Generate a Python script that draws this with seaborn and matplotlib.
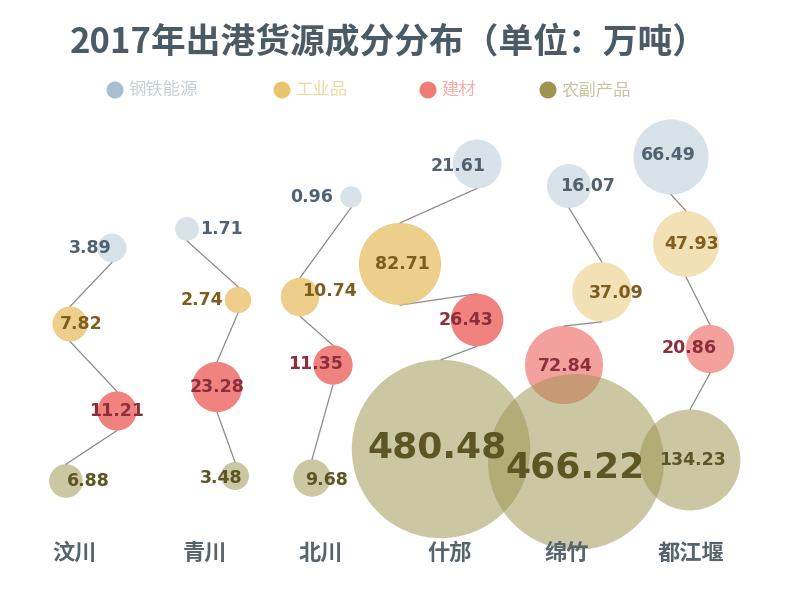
import numpy as np
import pandas as pd
import matplotlib
matplotlib.use('Agg')
import matplotlib.pyplot as plt
import seaborn as sns

# Data (万吨)
regions = ['汶川', '青川', '北川', '什邡', '绵竹', '都江堰']
categories = ['钢铁能源', '工业品', '建材', '农副产品']
steel = [3.89, 1.71, 0.96, 21.61, 16.07, 66.49]
industry = [7.82, 2.74, 10.74, 82.71, 37.09, 47.93]
building = [11.21, 23.28, 11.35, 26.43, 72.84, 20.86]
farm = [6.88, 3.48, 9.68, 480.48, 466.22, 134.23]

# Layout of the hand placed infographic (pixel units)
region_x = [75, 205, 321, 450, 567, 691]
bubble_dx = {
    '钢铁能源': [37, -18, 30, 27, 2, -20],
    '工业品': [-5, 33, -21, -50, 35, -5],
    '建材': [42, 12, 12, 27, -3, 19],
    '农副产品': [-9, 30, -9, -9, 9, -1],
}
bubble_y = {
    '钢铁能源': [248, 229, 197, 164, 186, 157],
    '工业品': [324, 300, 297, 264, 292, 244],
    '建材': [411, 387, 365, 320, 365, 349],
    '农副产品': [481, 476, 478, 449, 462, 460],
}
label_dx = {
    '钢铁能源': [-22, 34, -39, -19, 18, -3],
    '工业品': [11, -36, 29, 2, 14, 6],
    '建材': [0, 0, -18, -11, 1, -21],
    '农副产品': [22, -14, 15, -4, -1, 2],
}
label_dy = {
    '钢铁能源': [0, 0, 0, 2, 0, -2],
    '工业品': [0, 0, -6, 0, 1, 0],
    '建材': [0, 0, -1, 0, 1, -1],
    '农副产品': [0, 2, 2, -2, 5, 0],
}
faded = [('绵竹', '工业品'), ('都江堰', '工业品'), ('绵竹', '建材'), ('都江堰', '建材')]

colors = {'钢铁能源': '#a9bfcf', '工业品': '#e9c46e', '建材': '#f07c78', '农副产品': '#9e9450'}
alphas = {'钢铁能源': 0.45, '工业品': 0.8, '建材': 0.95, '农副产品': 0.52}
faded_alphas = {'工业品': 0.5, '建材': 0.72}
text_colors = {'钢铁能源': '#506270', '工业品': '#7d5e1f', '建材': '#8c2f3b', '农副产品': '#5e5524'}
legend_text_colors = {'钢铁能源': '#c5d0d8', '工业品': '#efd9a5', '建材': '#f2b0b0', '农副产品': '#c9c49f'}
legend_x = [115, 282, 428, 548]

# Build table
values = {'钢铁能源': steel, '工业品': industry, '建材': building, '农副产品': farm}
rows = []
for cat in categories:
    for i, reg in enumerate(regions):
        rows.append({
            'region': reg, 'category': cat, 'value': values[cat][i],
            'x': region_x[i] + bubble_dx[cat][i], 'y': bubble_y[cat][i],
            'lx': region_x[i] + bubble_dx[cat][i] + label_dx[cat][i],
            'ly': bubble_y[cat][i] + label_dy[cat][i],
            'faded': (reg, cat) in faded,
        })
df = pd.DataFrame(rows)

# bubble radius in px grows with sqrt(value) plus a floor
DPI = 100
df['r'] = 7 + 3.75 * np.sqrt(df['value'])
df['area'] = df['r'] ** 2
area_max = df['area'].max()
s_max = (2 * df['r'].max() * 72 / DPI) ** 2

# Plot
sns.set_style('white')
plt.rcParams['font.family'] = ['DejaVu Sans', 'Noto Sans CJK SC']
fig = plt.figure(figsize=(8, 6.14), dpi=DPI)
ax = fig.add_axes([0, 0, 1, 1])

# connectors: bottom of one bubble to top of the next (skipped when they overlap)
for reg in regions:
    sub = df[df['region'] == reg].set_index('category').loc[categories]
    for a, b in zip(categories[:-1], categories[1:]):
        dist = np.hypot(sub.loc[a, 'x'] - sub.loc[b, 'x'], sub.loc[a, 'y'] - sub.loc[b, 'y'])
        if dist < sub.loc[a, 'r'] + sub.loc[b, 'r']:
            continue
        ax.plot([sub.loc[a, 'x'], sub.loc[b, 'x']],
                [sub.loc[a, 'y'] + sub.loc[a, 'r'], sub.loc[b, 'y'] - sub.loc[b, 'r']],
                color='#8a8a8a', lw=0.9, zorder=1)

for cat in categories:
    for is_faded in [False, True]:
        sub = df[(df['category'] == cat) & (df['faded'] == is_faded)]
        if sub.empty:
            continue
        alpha = faded_alphas[cat] if is_faded else alphas[cat]
        sns.scatterplot(data=sub, x='x', y='y', size='area', sizes=(0, s_max),
                        size_norm=(0, area_max), color=colors[cat], alpha=alpha,
                        linewidth=0, legend=False, ax=ax, zorder=2)

for _, row in df.iterrows():
    big = row['value'] > 300
    ax.text(row['lx'], row['ly'], f"{row['value']:.2f}", ha='center', va='center',
            fontsize=26 if big else 12.5, fontweight='bold',
            color=text_colors[row['category']], zorder=3)

# region labels
for x, reg in zip(region_x, regions):
    ax.text(x, 553, reg, ha='center', va='center', fontsize=16, fontweight='bold',
            color='#56646e', family=['Noto Sans CJK SC', 'DejaVu Sans'])

# title
ax.text(389, 43, '2017年出港货源成分分布（单位：万吨）', ha='center', va='center',
        fontsize=25, fontweight='bold', color='#4b5b66',
        family=['Noto Sans CJK SC', 'DejaVu Sans'])

# legend
ax.scatter(legend_x, [90] * 4, s=(17 * 72 / DPI) ** 2,
           c=[colors[c] for c in categories], linewidths=0, zorder=3)
for x, cat in zip(legend_x, categories):
    ax.text(x + 13, 90, cat, ha='left', va='center', fontsize=12.5,
            color=legend_text_colors[cat], family=['Noto Sans CJK SC', 'DejaVu Sans'])

ax.set_xlim(0, 800)
ax.set_ylim(614, 0)
ax.axis('off')

plt.savefig('out.png', dpi=DPI)
